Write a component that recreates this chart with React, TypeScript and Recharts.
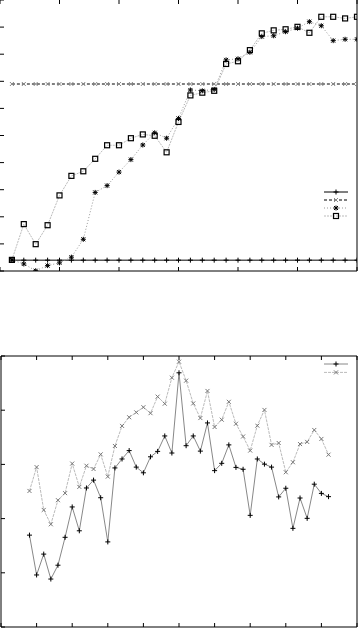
import React from "react";
import { LineChart, Line, XAxis, YAxis } from "recharts";

// top panel: 30 runs
const topX = [1, 2, 3, 4, 5, 6, 7, 8, 9, 10, 11, 12, 13, 14, 15, 16, 17, 18, 19, 20, 21, 22, 23, 24, 25, 26, 27, 28, 29, 30];
const topFlatLow = [4, 4, 4, 4, 4, 4, 4, 4, 4, 4, 4, 4, 4, 4, 4, 4, 4, 4, 4, 4, 4, 4, 4, 4, 4, 4, 4, 4, 4, 4];
const topFlatHigh = [69, 69, 69, 69, 69, 69, 69, 69, 69, 69, 69, 69, 69, 69, 69, 69, 69, 69, 69, 69, 69, 69, 69, 69, 69, 69, 69, 69, 69, 69];
const topStar = [4.1, 2.6, 0.1, 2.0, 3.0, 5.1, 11.7, 29.0, 31.5, 36.5, 41.1, 46.5, 51.0, 49.0, 56.3, 66.8, 66.5, 67.0, 77.9, 78.3, 80.7, 86.5, 86.8, 88.3, 89.6, 92.0, 90.5, 85.0, 85.5, 85.5];
const topSquare = [4.1, 17.3, 9.9, 16.9, 27.9, 35.1, 36.8, 41.4, 46.4, 46.4, 49.0, 50.4, 49.9, 43.8, 55.0, 64.8, 65.8, 66.5, 76.4, 77.4, 81.5, 87.7, 88.8, 89.2, 90.1, 87.9, 93.8, 93.8, 93.2, 93.8];
const topXTicks = [0, 5, 10, 15, 20, 25, 30];
const topYTicks = [0, 10, 20, 30, 40, 50, 60, 70, 80, 90, 100];

// bottom panel
const botX = [4, 5, 6, 7, 8, 9, 10, 11, 12, 13, 14, 15, 16, 17, 18, 19, 20, 21, 22, 23, 24, 25, 26, 27, 28, 29, 30, 31, 32, 33, 34, 35, 36, 37, 38, 39, 40, 41, 42, 43, 44, 45, 46];
const botPlus = [33.9, 19.2, 26.9, 17.7, 22.8, 33.1, 44.3, 35.5, 51.3, 54.2, 47.7, 31.4, 58.7, 62.0, 65.1, 59.0, 56.9, 62.8, 64.8, 70.5, 64.2, 93.8, 66.9, 70.5, 64.9, 75.3, 57.7, 60.4, 67.2, 58.9, 58.2, 41.2, 62.0, 60.1, 59.0, 48.0, 51.2, 36.4, 47.6, 40.1, 52.7, 49.3, 48.1];
const botCross = [50.2, 59.0, 43.2, 37.9, 46.8, 49.4, 60.3, 51.7, 59.5, 58.3, 63.7, 55.5, 66.8, 74.2, 77.4, 79.2, 81.1, 78.9, 85.0, 82.4, 92.0, 97.9, 90.9, 82.5, 77.1, 87.1, 73.8, 76.5, 83.1, 75.0, 70.3, 65.1, 74.3, 80.1, 67.2, 67.9, 57.1, 60.8, 67.5, 68.3, 72.7, 69.4, 63.6];
const botXTicks = [0, 5, 10, 15, 20, 25, 30, 35, 40, 45, 50];
const botYTicks = [0, 20, 40, 60, 80, 100];

const topData = topX.map((x, i) => ({ x, a: topFlatLow[i], b: topFlatHigh[i], c: topStar[i], d: topSquare[i] }));
const botData = botX.map((x, i) => ({ x, a: botPlus[i], b: botCross[i] }));

type Marker = "plus" | "cross" | "star" | "square";

const markPath = (m: Marker, cx: number, cy: number, color: string, k?: any) => {
  const r = 2.5;
  if (m === "square")
    return <rect key={k} x={cx - r} y={cy - r} width={2 * r} height={2 * r} fill="none" stroke={color} strokeWidth={1.2} />;
  const plus = `M${cx - r},${cy}H${cx + r}M${cx},${cy - r}V${cy + r}`;
  const q = 2;
  const cross = `M${cx - q},${cy - q}L${cx + q},${cy + q}M${cx - q},${cy + q}L${cx + q},${cy - q}`;
  const d = m === "plus" ? plus : m === "cross" ? cross : plus + cross;
  return <path key={k} d={d} stroke={color} strokeWidth={1} fill="none" />;
};

const dot = (m: Marker, color: string) => (p: any) => {
  if (p.cx == null || p.cy == null) return <g key={p.key} />;
  return markPath(m, p.cx, p.cy, color, p.key);
};

type S = { key: string; stroke: string; dash?: string; marker: Marker; mcolor: string };

const topSeries: S[] = [
  { key: "a", stroke: "#000", marker: "plus", mcolor: "#000" },
  { key: "b", stroke: "#000", dash: "3 2", marker: "cross", mcolor: "#888" },
  { key: "c", stroke: "#999", dash: "1 2", marker: "star", mcolor: "#000" },
  { key: "d", stroke: "#bbb", dash: "2 1", marker: "square", mcolor: "#000" },
];
const botSeries: S[] = [
  { key: "a", stroke: "#888", marker: "plus", mcolor: "#000" },
  { key: "b", stroke: "#bbb", dash: "3 1", marker: "cross", mcolor: "#777" },
];

// key box without text, like the original plot
const KeyBox = ({ series, gap, left, top }: { series: S[]; gap: number; left: number; top: number }) => (
  <svg width={30} height={gap * series.length + 4} style={{ position: "absolute", left, top }}>
    {series.map((s, i) => {
      const y = 3 + i * gap;
      return (
        <g key={s.key}>
          <line x1={2} x2={26} y1={y} y2={y} stroke={s.stroke} strokeDasharray={s.dash} />
          {markPath(s.marker, 14, y, s.mcolor)}
        </g>
      );
    })}
  </svg>
);

// no labels, tick marks only
const noLabel = () => <g />;

const frameAxes = (xt: number[], yt: number[], xd: number[], showTopLeft: boolean) => [
  <XAxis key="xb" xAxisId="b" type="number" dataKey="x" domain={xd} ticks={xt} height={1} mirror tick={noLabel} tickLine={{ stroke: "#000" }} tickSize={4} stroke="#000" interval={0} allowDataOverflow />,
  <XAxis key="xt" xAxisId="t" orientation="top" type="number" dataKey="x" domain={xd} ticks={xt} height={1} mirror tick={noLabel} tickLine={{ stroke: "#000" }} tickSize={4} stroke="#000" interval={0} axisLine={showTopLeft} />,
  <YAxis key="yl" yAxisId="l" type="number" domain={[0, 100]} ticks={yt} width={1} mirror tick={noLabel} tickLine={{ stroke: "#000" }} tickSize={4} stroke="#000" interval={0} axisLine={showTopLeft} allowDataOverflow />,
  <YAxis key="yr" yAxisId="r" orientation="right" type="number" domain={[0, 100]} ticks={yt} width={1} mirror tick={noLabel} tickLine={{ stroke: "#000" }} tickSize={4} stroke="#000" interval={0} />,
];

export default function App() {
  return (
    <div style={{ position: "absolute", left: 0, top: 0, width: 360, height: 628, background: "#fff" }}>
      <div style={{ position: "absolute", left: 0, top: 0 }}>
        <LineChart width={360} height={272} data={topData} margin={{ top: 0, right: 3, bottom: 1, left: 0 }}>
          {frameAxes(topXTicks, topYTicks, [0, 30], false)}
          {topSeries.map((s) => (
            <Line key={s.key} xAxisId="b" yAxisId="l" dataKey={s.key} stroke={s.stroke} strokeWidth={1} strokeDasharray={s.dash} dot={dot(s.marker, s.mcolor)} activeDot={false} isAnimationActive={false} type="linear" />
          ))}
        </LineChart>
        <KeyBox series={topSeries} gap={8} left={322} top={189} />
      </div>
      <div style={{ position: "absolute", left: 0, top: 355 }}>
        <LineChart width={360} height={273} data={botData} margin={{ top: 1, right: 3, bottom: 1, left: 1 }}>
          {frameAxes(botXTicks, botYTicks, [0, 50], true)}
          {botSeries.map((s) => (
            <Line key={s.key} xAxisId="b" yAxisId="l" dataKey={s.key} stroke={s.stroke} strokeWidth={1} strokeDasharray={s.dash} dot={dot(s.marker, s.mcolor)} activeDot={false} isAnimationActive={false} type="linear" />
          ))}
        </LineChart>
        <KeyBox series={botSeries} gap={8.4} left={322} top={6} />
      </div>
    </div>
  );
}
